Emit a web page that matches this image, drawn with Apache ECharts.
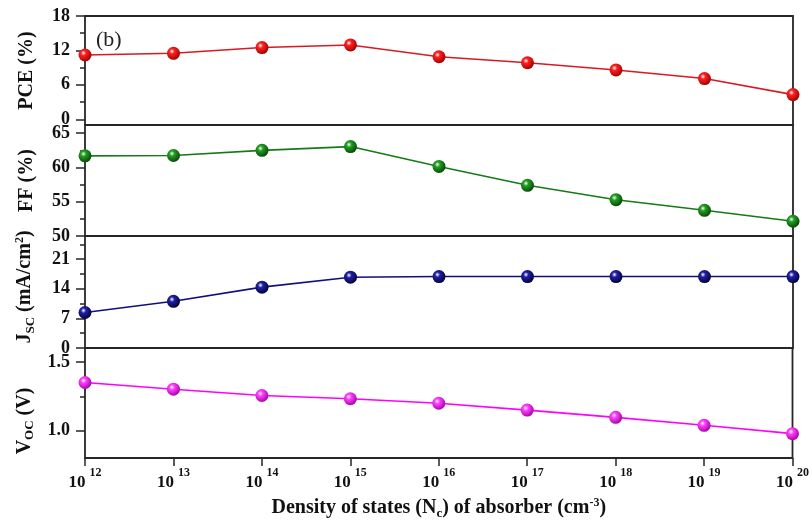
<!DOCTYPE html>
<html>
<head>
<meta charset="utf-8">
<script src="https://cdn.jsdelivr.net/npm/echarts@6/dist/echarts.min.js"></script>
<style>
html, body { margin: 0; padding: 0; background: #fff; }
#chart { width: 812px; height: 532px; }
</style>
</head>
<body>
<div id="chart"></div>
<script>
// exponents of Nc (10^x cm^-3)
var exponents = [12, 13, 14, 15, 16, 17, 18, 19, 20];
var pce = [11.2, 11.5, 12.5, 12.95, 10.9, 9.85, 8.6, 7.1, 4.3];
var ff = [61.7, 61.75, 62.5, 63.05, 60.15, 57.4, 55.3, 53.75, 52.15];
var jsc = [8.4, 11.05, 14.4, 16.75, 16.9, 16.9, 16.9, 16.9, 16.9];
var voc = [1.352, 1.303, 1.257, 1.233, 1.2, 1.15, 1.097, 1.039, 0.978];

var pceTicks = [0, 6, 12, 18];
var pceMinor = [3, 9, 15];
var ffTicks = [50, 55, 60, 65];
var ffMinor = [52.5, 57.5, 62.5];
var jscTicks = [0, 7, 14, 21];
var jscMinor = [3.5, 10.5, 17.5, 24.5];
var vocTicks = [1.0, 1.5];
var vocMinor = [1.25];

var font = '"Liberation Serif", "Times New Roman", serif';
var frame = '#262626';

var panels = [
    {name: 'PCE (%)', data: pce, min: -1, max: 18, ticks: pceTicks, minor: pceMinor, top: 16, height: 109,
     line: '#d81b22', c: '#ff2020', dark: '#9a0000', fmt: null, shift: [0, 0, 0, 0]},
    {name: 'FF (%)', data: ff, min: 50, max: 66.2, ticks: ffTicks, minor: ffMinor, top: 125, height: 111,
     line: '#167a16', c: '#22a022', dark: '#084008', fmt: null, shift: [0, 0, 0, 0]},
    {name: 'J{sub|SC} (mA/cm{sup|2})', data: jsc, min: 0, max: 26.5, ticks: jscTicks, minor: jscMinor, top: 236, height: 112,
     line: '#10107a', c: '#2020a8', dark: '#00002e', fmt: null, shift: [0, 0, 0, 10]},
    {name: 'V{sub|OC} (V)', data: voc, min: 0.8, max: 1.604, ticks: vocTicks, minor: vocMinor, top: 348, height: 110,
     line: '#ff00ff', c: '#ff40ff', dark: '#a000a0', fmt: function (v) { return v.toFixed(1); }, shift: [0, 36, 0, 0]}
];

function ball(c, dark) {
    return {
        type: 'radial', x: 0.38, y: 0.35, r: 0.7,
        colorStops: [
            {offset: 0, color: '#ffffff'},
            {offset: 0.28, color: c},
            {offset: 1, color: dark}
        ]
    };
}

var nameRich = {
    sub: {fontFamily: font, fontSize: 13, fontWeight: 'bold', color: '#111', padding: [11, 0, 0, 0]},
    sup: {fontFamily: font, fontSize: 12, fontWeight: 'bold', color: '#111', padding: [0, 0, 11, 0]}
};

var grids = [], xAxes = [], yAxes = [], series = [];

panels.forEach(function (p, i) {
    var last = i === panels.length - 1;
    grids.push({
        left: 85, right: 19, top: p.top, height: p.height,
        show: true, borderColor: frame, borderWidth: 1.8, backgroundColor: 'transparent'
    });
    xAxes.push({
        type: 'value', gridIndex: i, min: 12, max: 20, interval: 1,
        axisLine: {show: false},
        splitLine: {show: false},
        axisTick: {show: last, length: 8, lineStyle: {color: frame, width: 1.5}},
        axisLabel: {
            show: last, margin: 9,
            formatter: function (v) { return '{b|10}{s|' + v + '}'; },
            rich: {
                b: {fontFamily: font, fontSize: 17, fontWeight: 'bold', color: '#111'},
                s: {fontFamily: font, fontSize: 12, fontWeight: 'bold', color: '#111', padding: [0, 0, 20, 4]}
            }
        },
        name: last ? 'Density of states (N{sub|c}) of absorber (cm{sup|-3})' : '',
        nameLocation: 'middle',
        nameGap: 38,
        nameTextStyle: {
            fontFamily: font, fontSize: 20, fontWeight: 'bold', color: '#111',
            rich: nameRich
        }
    });
    // major ticks + labels
    yAxes.push({
        type: 'value', gridIndex: i, position: 'left', min: p.min, max: p.max,
        axisLine: {show: false},
        splitLine: {show: false},
        axisTick: {show: true, customValues: p.ticks, length: 9, lineStyle: {color: frame, width: 1.5}},
        axisLabel: {
            customValues: p.ticks, margin: 15,
            fontFamily: font, fontSize: 18, fontWeight: 'bold', color: '#111',
            formatter: p.fmt || function (v) { return String(v); }
        },
        name: p.name,
        nameLocation: 'middle',
        nameRotate: 90,
        nameGap: 48,
        nameTextStyle: {
            fontFamily: font, fontSize: 20, fontWeight: 'bold', color: '#111',
            padding: p.shift,
            rich: nameRich
        }
    });
    // minor ticks
    yAxes.push({
        type: 'value', gridIndex: i, position: 'left', min: p.min, max: p.max,
        axisLine: {show: false},
        splitLine: {show: false},
        axisTick: {show: true, customValues: p.minor, length: 5, lineStyle: {color: frame, width: 1.5}},
        axisLabel: {show: false}
    });
    series.push({
        type: 'line',
        xAxisIndex: i,
        yAxisIndex: i * 2,
        data: exponents.map(function (e, k) { return [e, p.data[k]]; }),
        symbol: 'circle',
        symbolSize: 13,
        lineStyle: {color: p.line, width: 1.6},
        itemStyle: {color: ball(p.c, p.dark)},
        emphasis: {disabled: true},
        animation: false
    });
});

var myChart = echarts.init(document.getElementById('chart'));

option = {
    backgroundColor: '#fff',
    animation: false,
    grid: grids,
    xAxis: xAxes,
    yAxis: yAxes,
    series: series,
    graphic: [{
        type: 'text', left: 96, top: 29,
        style: {text: '(b)', font: '22px ' + font, fill: '#222'}
    }]
};

myChart.setOption(option);
</script>
</body>
</html>
